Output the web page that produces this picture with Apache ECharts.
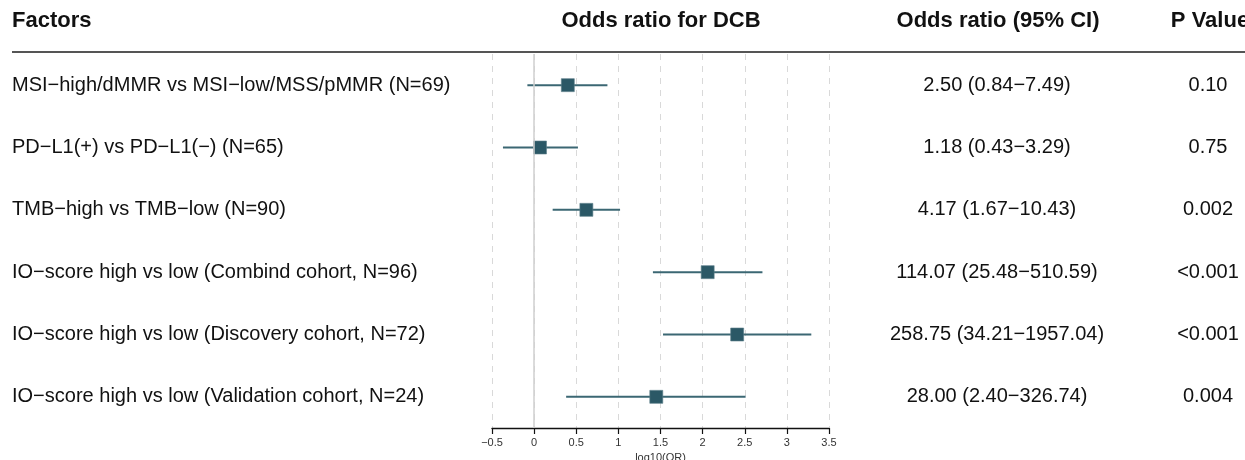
<!DOCTYPE html>
<html>
<head>
<meta charset="utf-8">
<script src="https://cdn.jsdelivr.net/npm/echarts@6/dist/echarts.min.js"></script>
<style>
  html, body { margin: 0; padding: 0; background: #fff; }
  #main { width: 1245px; height: 460px; }
</style>
</head>
<body>
<div id="main"></div>
<script>
// rows, top to bottom
var factors = [
    'MSI\u2212high/dMMR vs MSI\u2212low/MSS/pMMR (N=69)',
    'PD\u2212L1(+) vs PD\u2212L1(\u2212) (N=65)',
    'TMB\u2212high vs TMB\u2212low (N=90)',
    'IO\u2212score high vs low (Combind cohort, N=96)',
    'IO\u2212score high vs low (Discovery cohort, N=72)',
    'IO\u2212score high vs low (Validation cohort, N=24)'
];
var orText = [
    '2.50 (0.84\u22127.49)',
    '1.18 (0.43\u22123.29)',
    '4.17 (1.67\u221210.43)',
    '114.07 (25.48\u2212510.59)',
    '258.75 (34.21\u22121957.04)',
    '28.00 (2.40\u2212326.74)'
];
var pText = ['0.10', '0.75', '0.002', '<0.001', '<0.001', '0.004'];

// log10(OR) and its 95% CI bounds
var logOR = [0.40, 0.07, 0.62, 2.06, 2.41, 1.45];
var logLow = [-0.08, -0.37, 0.22, 1.41, 1.53, 0.38];
var logHigh = [0.87, 0.52, 1.02, 2.71, 3.29, 2.51];

var FONT = '"Liberation Sans", Arial, sans-serif';
var DARK = '#2b5866';

var myChart = echarts.init(document.getElementById('main'));

var ciData = [];
var ptData = [];
for (var i = 0; i < factors.length; i++) {
    ciData.push([logLow[i], logHigh[i], i]);
    ptData.push([logOR[i], i]);
}

function header(txt, x, align) {
    return {
        text: txt, left: x, top: 10, padding: 0, textAlign: align,
        textStyle: { fontSize: 22, fontWeight: 'bold', color: '#111', fontFamily: FONT }
    };
}

var option = {
    animation: false,
    textStyle: { fontFamily: FONT },
    title: [
        header('Factors', 12, 'left'),
        header('Odds ratio for DCB', 661, 'center'),
        header('Odds ratio (95% CI)', 998, 'center'),
        header('P Value', 1210, 'center')
    ],
    graphic: [
        { type: 'line', shape: { x1: 12, y1: 52, x2: 1245, y2: 52 },
          style: { stroke: '#555', lineWidth: 2 } }
    ],
    grid: { left: 492, right: 416, top: 54, bottom: 32, outerBoundsMode: 'none', containLabel: false },
    xAxis: {
        type: 'value',
        min: -0.5,
        max: 3.5,
        interval: 0.5,
        name: 'log10(OR)',
        nameLocation: 'middle',
        nameGap: 24,
        nameTextStyle: { fontSize: 11, color: '#333', fontFamily: FONT },
        axisLine: { show: true, lineStyle: { color: '#111', width: 1.3 } },
        axisTick: { show: true, length: 6, lineStyle: { color: '#111', width: 1.2 } },
        axisLabel: {
            fontSize: 11, color: '#333', margin: 9,
            formatter: function (v) { return String(v).replace('-', '\u2212'); }
        },
        splitLine: { show: true, lineStyle: { color: '#d9d9d9', type: [6, 6], width: 1 } }
    },
    yAxis: [
        {
            type: 'category', inverse: true, data: factors, position: 'left',
            axisLine: { show: false }, axisTick: { show: false },
            axisLabel: { align: 'left', margin: 480, fontSize: 20, color: '#111' }
        },
        {
            type: 'category', inverse: true, data: orText, position: 'right',
            axisLine: { show: false }, axisTick: { show: false },
            axisLabel: { align: 'center', margin: 168, fontSize: 20, color: '#111' }
        },
        {
            type: 'category', inverse: true, data: pText, position: 'right',
            axisLine: { show: false }, axisTick: { show: false },
            axisLabel: { align: 'center', margin: 379, fontSize: 20, color: '#111' }
        }
    ],
    series: [
        {
            type: 'custom',
            data: ciData,
            renderItem: function (params, api) {
                var p1 = api.coord([api.value(0), api.value(2)]);
                var p2 = api.coord([api.value(1), api.value(2)]);
                return {
                    type: 'line',
                    shape: { x1: p1[0], y1: p1[1], x2: p2[0], y2: p2[1] },
                    style: { stroke: '#3b6773', lineWidth: 2 }
                };
            },
            z: 3,
            markLine: {
                silent: true,
                symbol: 'none',
                label: { show: false },
                lineStyle: { color: '#cfcfcf', type: 'solid', width: 1.5 },
                data: [{ xAxis: 0 }]
            }
        },
        {
            type: 'scatter',
            data: ptData,
            symbol: 'rect',
            symbolSize: 13,
            itemStyle: { color: DARK, opacity: 1, borderColor: '#5f828c', borderWidth: 0.6 },
            z: 4
        }
    ]
};
myChart.setOption(option);
</script>
</body>
</html>
